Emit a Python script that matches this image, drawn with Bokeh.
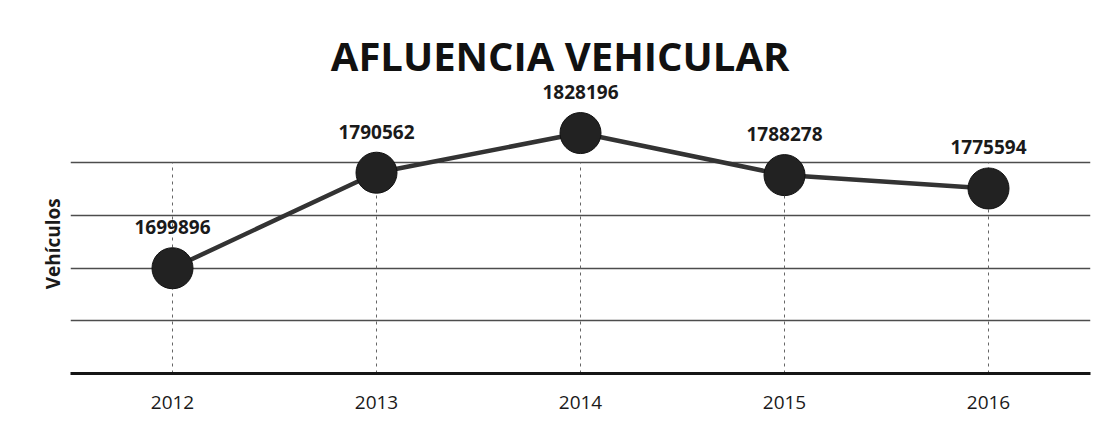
from bokeh.plotting import figure
from bokeh.models import Label, FixedTicker, ColumnDataSource, Range1d
from bokeh.embed import file_html
from bokeh.resources import INLINE
from bokeh.core.properties import value

years = ["2012", "2013", "2014", "2015", "2016"]
vehicles = [1699896, 1790562, 1828196, 1788278, 1775594]
labels = [str(v) for v in vehicles]
title_text = "AFLUENCIA VEHICULAR"
y_label = "Vehículos"
y_ticks = [1600000, 1650000, 1700000, 1750000, 1800000]

FONT = "Open Sans"
Y_MIN, Y_MAX = 1600000, 1954000

p = figure(width=1100, height=420, x_range=years, y_range=Range1d(Y_MIN, Y_MAX),
           output_backend="svg", toolbar_location=None,
           min_border_left=70, min_border_right=10, min_border_top=0, min_border_bottom=47)
p.outline_line_color = None
p.background_fill_color = "white"
p.border_fill_color = "white"

src = ColumnDataSource(dict(x=years, y=vehicles, t=labels,
                            y0=[Y_MIN] * len(years), y1=[max(y_ticks)] * len(years)))

# vertical dashed category gridlines (stop at top gridline)
p.segment(x0="x", y0="y0", x1="x", y1="y1", source=src, line_color="#666666",
          line_dash="3 4", line_width=1)

p.line("x", "y", source=src, line_color="#333333", line_width=4.5)
p.scatter("x", "y", source=src, size=41, fill_color="#222222", line_color="#111111", line_width=1)
p.text("x", "y", text="t", source=src, text_font=value(FONT), text_font_style="bold",
       text_font_size="19px", text_color="#1a1a1a", text_align="center",
       text_baseline="middle", y_offset=-41)

# axes
p.yaxis.ticker = FixedTicker(ticks=y_ticks)
p.yaxis.major_label_overrides = {t: "" for t in y_ticks}
p.yaxis.major_label_standoff = 0
p.yaxis.major_tick_line_color = None
p.yaxis.major_tick_out = 0
p.yaxis.major_tick_in = 0
p.yaxis.minor_tick_line_color = None
p.yaxis.axis_line_color = None
# trailing non-breaking spaces shift the centred label down beside the gridlines
p.yaxis.axis_label = y_label + "\u00a0" * 23
p.yaxis.axis_label_text_font = FONT
p.yaxis.axis_label_text_font_style = "bold"
p.yaxis.axis_label_text_font_size = "19px"
p.yaxis.axis_label_text_color = "#1a1a1a"
p.yaxis.axis_label_standoff = 5

p.xaxis.axis_line_color = "#151515"
p.xaxis.axis_line_width = 3
p.xaxis.major_tick_line_color = None
p.xaxis.major_label_text_font = FONT
p.xaxis.major_label_text_font_size = "19px"
p.xaxis.major_label_text_color = "#1a1a1a"
p.xaxis.major_label_standoff = 16

p.ygrid.grid_line_color = "#4d4d4d"
p.ygrid.grid_line_width = 1.4
p.xgrid.grid_line_color = None

p.add_layout(Label(x=2.4, y=1902000, x_units="data", y_units="data",
                   text=title_text, text_font=FONT, text_font_style="bold",
                   text_font_size="40px", text_color="#111111",
                   text_align="center", text_baseline="middle"))

open("out.html", "w").write(file_html(p, INLINE))
